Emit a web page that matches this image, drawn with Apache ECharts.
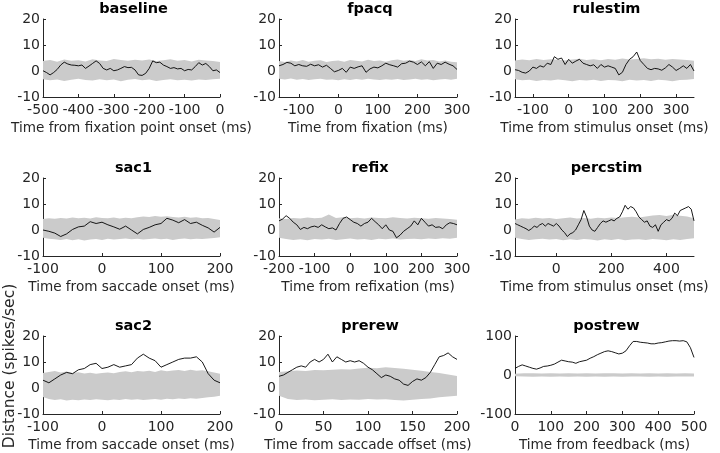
<!DOCTYPE html>
<html>
<head>
<meta charset="utf-8">
<script src="https://cdn.jsdelivr.net/npm/echarts@6/dist/echarts.min.js"></script>
<style>html,body{margin:0;padding:0;background:#fff}#c{width:720px;height:453px}</style>
</head>
<body>
<div id="c"></div>
<script>
// ---------- titles / axis names ----------
const titles = ['baseline','fpacq','rulestim','sac1','refix','percstim','sac2','prerew','postrew'];
const xNames = ['Time from fixation point onset (ms)','Time from fixation (ms)','Time from stimulus onset (ms)',
  'Time from saccade onset (ms)','Time from refixation (ms)','Time from stimulus onset (ms)',
  'Time from saccade onset (ms)','Time from saccade offset (ms)','Time from feedback (ms)'];
const yLabel = 'Distance (spikes/sec)';

// ---------- x ranges and tick labels ----------
const xMins = [-500,-150,-150,-100,-200,-150,-100,0,0];
const xMaxs = [0,300,350,200,300,500,200,200,500];
const xTicks = [
  [-500,-400,-300,-200,-100,0],
  [-100,0,100,200,300],
  [-100,0,100,200,300],
  [-100,0,100,200],
  [-200,-100,0,100,200,300],
  [0,200,400],
  [-100,0,100,200],
  [0,50,100,150,200],
  [0,100,200,300,400,500]
];
const yTicksSmall = [-10,0,10,20];
const yTicksLarge = [-100,0,100];

// ---------- sampling of traces (start, step) ----------
const lineStart = [-500,-150,-150,-100,-200,-150,-100,0,0];
const lineStep  = [10,10,10,10,10,10,10,5,10];
const bandStart = [-500,-150,-150,-100,-200,-150,-100,0,0];
const bandStep  = [20,15,20,10,20,25,10,10,25];

// ---------- black traces ----------
const baselineLine = [0.1,-0.6,-1.5,-0.6,0.6,2.3,3.4,2.7,2.3,2.2,2.0,2.3,1.0,1.9,2.9,3.9,2.9,1.0,0.4,1.0,0.1,0.4,1.0,1.7,1.3,1.4,0.4,-1.5,-1.7,-0.9,1.0,3.9,3.2,3.4,2.3,1.7,1.0,1.3,0.8,1.0,0.1,0.6,0.4,1.7,3.2,2.3,2.9,1.7,0.1,0.4,-0.6];
const fpacqLine = [2.0,2.5,3.3,3.0,2.0,2.5,2.0,1.8,2.6,2.0,2.4,1.5,2.2,1.0,-0.3,0.2,1.0,-0.5,1.5,1.0,1.6,2.0,-0.5,0.8,1.5,1.2,2.0,3.0,2.4,2.0,1.5,2.8,3.0,3.8,3.4,2.5,3.5,2.0,3.6,1.0,3.0,2.5,3.4,2.6,2.0,0.6];
const rulestimLine = [0.5,0.2,-0.5,-0.8,0.0,1.5,1.0,2.0,1.5,3.0,2.5,5.5,4.5,5.0,2.5,4.5,3.0,3.8,4.5,3.0,2.5,2.0,2.4,1.0,2.5,1.5,2.0,1.5,1.0,-1.5,-0.5,2.5,4.5,5.5,7.3,4.0,2.5,1.0,0.5,1.0,0.8,0.3,1.2,2.5,1.5,0.2,1.0,2.0,1.0,2.5,0.0];
const sac1Line = [0.0,-0.5,-1.2,-2.5,-1.5,0.2,1.2,1.5,3.2,2.5,3.0,2.0,1.2,0.3,1.5,0.0,-1.5,0.2,1.0,2.0,2.5,4.5,3.8,2.8,4.0,2.5,3.0,1.8,0.8,-0.8,1.0];
const refixLine = [3.5,4.2,5.5,4.5,3.0,2.0,0.2,1.0,0.5,1.2,1.5,1.0,2.0,1.2,0.5,0.8,0.0,2.5,4.5,5.0,4.0,3.0,2.5,1.5,2.5,3.0,4.5,3.2,2.0,0.5,2.0,0.0,-0.5,-3.0,-2.0,-0.5,0.5,1.5,3.5,2.0,4.5,3.0,1.5,2.0,1.0,1.2,0.5,2.0,2.8,2.5,2.0];
const percstimLine = [2.5,2.0,1.5,1.0,0.5,-0.2,0.5,1.5,1.0,2.0,2.5,1.5,2.5,2.0,1.5,2.5,1.5,0.0,-1.0,-2.5,-1.5,-1.0,0.0,2.0,4.0,7.5,5.0,1.5,0.0,-0.5,1.0,2.5,3.5,3.0,3.5,4.0,3.5,4.5,5.0,7.0,9.5,8.0,9.0,8.5,7.0,5.0,4.0,3.0,3.5,1.5,1.0,2.0,-0.5,2.0,3.0,4.0,3.5,4.5,6.5,5.5,7.5,8.0,8.5,9.0,8.0,3.5];
const sac2Line = [3.0,2.0,3.5,5.0,6.0,5.5,7.0,7.5,9.0,9.5,7.5,8.0,9.0,8.0,8.5,9.0,11.5,13.0,11.5,10.5,8.0,9.0,10.0,11.0,11.5,11.5,12.0,10.0,5.5,3.0,2.0];
const prerewLine = [4.5,5.0,6.0,7.0,8.0,8.5,8.0,10.0,11.0,10.0,11.0,13.0,10.0,12.0,11.0,10.0,10.5,10.0,10.5,9.5,8.0,7.0,5.5,4.0,5.0,4.5,3.5,3.0,1.5,1.0,2.5,3.5,3.0,4.0,6.0,9.0,12.0,12.5,13.5,12.0,11.0];
const postrewLine = [17,22,26,23,20,17,15,18,22,23,25,28,33,38,36,34,33,30,34,36,38,43,47,52,56,60,62,60,57,54,56,62,75,86,86,84,83,82,80,80,82,83,85,87,88,88,87,88,85,70,45];

// ---------- grey bands (upper / lower) ----------
const baselineUp = [3.8,4.2,3.6,4.4,3.9,4.1,3.7,4.5,4.0,3.8,4.6,4.2,3.9,4.3,4.0,4.4,3.8,4.1,4.5,3.9,4.2,3.7,4.3,4.0,3.8,3.5];
const baselineLo = [-3.2,-3.6,-3.3,-3.8,-3.4,-3.0,-3.5,-3.7,-3.2,-3.6,-3.3,-3.9,-3.4,-3.1,-3.6,-3.3,-3.8,-3.5,-3.2,-3.6,-3.4,-3.7,-3.3,-3.5,-3.2,-3.0];
const fpacqUp = [3.8,3.5,4.0,3.7,4.2,3.6,3.9,4.1,3.5,3.8,4.0,3.6,4.2,3.9,3.7,4.3,3.8,4.0,3.6,4.1,4.4,3.9,4.2,3.8,4.5,4.0,4.2,3.7,4.0,3.6,3.4];
const fpacqLo = [-3.0,-3.3,-2.9,-3.4,-3.1,-3.5,-3.2,-3.0,-3.4,-3.3,-3.6,-3.2,-3.5,-3.1,-3.4,-3.0,-3.3,-3.5,-3.2,-3.4,-3.1,-3.5,-3.3,-3.0,-3.4,-3.2,-3.6,-3.3,-3.1,-3.4,-3.0];
const rulestimUp = [4.0,4.4,4.1,4.6,4.2,4.5,4.3,4.0,4.4,4.7,4.2,4.5,4.1,4.6,4.3,4.8,4.4,4.6,4.9,4.5,4.7,4.3,4.6,4.4,4.2,3.9];
const rulestimLo = [-3.2,-3.6,-3.4,-3.8,-3.5,-3.7,-3.3,-3.6,-3.9,-3.5,-3.7,-3.4,-3.8,-3.5,-3.6,-3.9,-3.4,-3.7,-3.5,-3.8,-3.4,-3.6,-3.9,-3.5,-3.4,-3.1];
const sac1Up = [4.2,4.5,4.3,4.6,4.4,4.8,4.5,4.7,4.4,4.9,4.6,4.5,4.8,4.4,4.7,4.5,4.9,5.2,5.0,5.4,5.1,5.3,5.0,4.8,5.1,4.7,4.9,4.5,4.6,4.2,3.8];
const sac1Lo = [-3.0,-3.4,-3.6,-3.8,-3.5,-3.9,-3.6,-4.0,-3.7,-3.5,-3.8,-3.4,-3.7,-3.5,-3.3,-3.6,-3.4,-3.7,-3.5,-3.3,-3.6,-3.4,-3.8,-3.5,-3.3,-3.6,-3.4,-3.5,-3.3,-3.1,-2.8];
const refixUp = [4.5,4.2,4.6,4.4,4.8,4.5,4.7,6.0,4.6,4.9,4.5,4.7,4.4,4.8,4.6,4.5,4.9,4.6,4.4,4.7,4.5,4.3,4.6,4.4,4.2,3.9];
const refixLo = [-3.0,-3.5,-3.8,-3.6,-3.9,-3.5,-3.7,-3.4,-3.8,-3.6,-3.3,-3.7,-3.5,-3.8,-3.4,-3.6,-3.3,-3.7,-3.5,-3.4,-3.6,-3.3,-3.5,-3.2,-3.4,-3.0];
const percstimUp = [4.0,4.5,4.3,4.7,4.4,4.6,4.2,4.5,4.8,4.4,4.6,4.3,4.7,4.5,4.8,4.6,4.9,5.1,4.8,5.2,5.6,5.8,5.4,5.9,5.5,5.2,4.5];
const percstimLo = [-3.0,-3.5,-3.8,-3.6,-3.4,-3.7,-3.5,-3.9,-3.6,-3.8,-3.5,-3.7,-4.0,-3.6,-3.8,-3.5,-3.9,-3.7,-3.6,-3.8,-3.5,-3.7,-3.9,-3.6,-3.8,-3.5,-3.2];
const sac2Up = [5.8,6.2,6.5,6.0,6.3,5.8,6.1,5.6,5.9,5.5,5.8,6.0,5.7,6.2,6.4,6.1,6.5,6.3,6.6,6.2,6.8,6.4,6.7,6.9,6.5,7.0,6.6,6.8,6.4,6.0,5.5];
const sac2Lo = [-3.5,-4.2,-4.6,-4.3,-4.8,-4.5,-4.7,-4.4,-4.6,-4.3,-4.5,-4.7,-4.4,-4.6,-4.2,-4.5,-4.3,-4.6,-4.4,-4.2,-4.5,-4.1,-4.3,-4.0,-4.2,-3.9,-4.1,-3.8,-3.6,-3.4,-3.0];
const prerewUp = [6.2,6.4,6.7,6.5,6.9,6.8,7.0,7.2,7.1,7.5,7.8,7.6,8.0,7.7,7.4,7.0,6.6,6.2,5.8,5.2,4.6];
const prerewLo = [-3.0,-4.2,-4.6,-4.4,-4.7,-4.5,-4.3,-4.6,-4.4,-4.5,-4.2,-4.4,-4.3,-4.6,-4.8,-4.5,-4.2,-4.0,-3.6,-3.3,-3.0];
const postrewUp = [3.5,4.2,4.6,4.0,4.4,3.8,4.5,4.1,4.3,3.9,4.6,4.2,4.0,4.4,3.8,4.3,4.1,4.5,3.9,4.2,3.6];
const postrewLo = [-3.5,-4.1,-4.4,-3.9,-4.3,-4.0,-4.5,-3.8,-4.2,-4.0,-4.4,-3.9,-4.3,-4.1,-3.8,-4.2,-4.0,-4.4,-3.9,-4.1,-3.6];

const lines = [baselineLine,fpacqLine,rulestimLine,sac1Line,refixLine,percstimLine,sac2Line,prerewLine,postrewLine];
const ups = [baselineUp,fpacqUp,rulestimUp,sac1Up,refixUp,percstimUp,sac2Up,prerewUp,postrewUp];
const los = [baselineLo,fpacqLo,rulestimLo,sac1Lo,refixLo,percstimLo,sac2Lo,prerewLo,postrewLo];

// ---------- layout ----------
const colLeft = [43,279,515];
const colWidth = [177,178,179];
const rowTop = [19,178,336];
const plotH = 78;

const FONT = 'DejaVu Sans';
const AX = '#262626';
const BAND = '#cbcbcb';

const grids=[], xAxes=[], yAxes=[], series=[], titleOpts=[];
for (let i=0;i<9;i++){
  const r=Math.floor(i/3), c=i%3;
  grids.push({left:colLeft[c], top:rowTop[r], width:colWidth[c], height:plotH, containLabel:false});
  xAxes.push({
    type:'value', gridIndex:i, min:xMins[i], max:xMaxs[i],
    splitLine:{show:false},
    axisLine:{show:true, onZero:false, lineStyle:{color:AX,width:1}},
    axisTick:{show:true, inside:true, length:3, customValues:xTicks[i], lineStyle:{color:AX}},
    axisLabel:{customValues:xTicks[i], color:AX, fontFamily:FONT, fontSize:14, margin:6, showMinLabel:true, showMaxLabel:true},
    name:xNames[i], nameLocation:'middle', nameGap:24,
    nameTextStyle:{color:AX, fontFamily:FONT, fontSize:13.6}
  });
  const yt = (i===8)? yTicksLarge : yTicksSmall;
  yAxes.push({
    type:'value', gridIndex:i, min:yt[0], max:yt[yt.length-1], interval:yt[1]-yt[0],
    splitLine:{show:false},
    axisLine:{show:true, onZero:false, lineStyle:{color:AX,width:1}},
    axisTick:{show:true, inside:true, length:3, lineStyle:{color:AX}},
    axisLabel:{color:AX, fontFamily:FONT, fontSize:14, margin:3, showMinLabel:true, showMaxLabel:true}
  });
  titleOpts.push({
    text:titles[i], left:colLeft[c]+colWidth[c]/2+2, top:rowTop[r]-17, textAlign:'center', padding:0,
    textStyle:{fontFamily:FONT, fontSize:14.5, fontWeight:'bold', color:'#000'}
  });
  // band polygon
  const bt = ups[i].map((v,k)=>bandStart[i]+k*bandStep[i]);
  const bandData = bt.map((t,k)=>[t, ups[i][k], los[i][k]]);
  series.push({
    type:'custom', xAxisIndex:i, yAxisIndex:i, silent:true, z:1,
    encode:{x:0, y:[1,2]},
    data:bandData,
    renderItem:(function(idx, times){
      return function(params, api){
        if (params.dataIndex!==0) return;
        const pts=[];
        for (let k=0;k<times.length;k++) pts.push(api.coord([times[k], ups[idx][k]]));
        for (let k=times.length-1;k>=0;k--) pts.push(api.coord([times[k], los[idx][k]]));
        return {type:'polygon', shape:{points:pts}, style:{fill:BAND, stroke:null}};
      };
    })(i, bt)
  });
  // black trace
  const lt = lines[i].map((v,k)=>[lineStart[i]+k*lineStep[i], v]);
  series.push({
    type:'line', xAxisIndex:i, yAxisIndex:i, data:lt, showSymbol:false, symbol:'none',
    lineStyle:{color:'#000', width:0.9}, z:3, silent:true
  });
}

const chart = echarts.init(document.getElementById('c'), null, {renderer:'canvas'});
chart.setOption({
  animation:false,
  backgroundColor:'#fff',
  title:titleOpts,
  grid:grids, xAxis:xAxes, yAxis:yAxes, series:series,
  graphic:[{
    type:'text', x:10, y:366, rotation:Math.PI/2,
    style:{text:yLabel, fill:AX, font:'15.5px "DejaVu Sans"', textAlign:'center', textVerticalAlign:'middle'}
  }]
});
</script>
</body>
</html>
